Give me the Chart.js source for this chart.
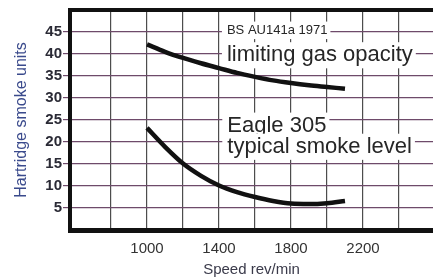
<!DOCTYPE html>
<html>
<head>
<meta charset="utf-8">
<script src="https://cdn.jsdelivr.net/npm/chart.js@4"></script>
<style>
  html, body { margin: 0; padding: 0; background: #fff; }
</style>
</head>
<body>
<canvas id="smokeChart" width="433" height="280"></canvas>
<script>
// engine speed, rev/min
const speeds = [1000, 1100, 1200, 1300, 1400, 1500, 1600, 1700, 1800, 1900, 2000, 2100];
// BS AU141a 1971 limiting gas opacity (Hartridge units)
const limitingOpacity = [42.2, 40.5, 39.1, 37.9, 36.8, 35.7, 34.8, 34.0, 33.4, 32.9, 32.5, 32.1];
// Eagle 305 typical smoke level
const eagleSmoke = [23.2, 18.9, 15.1, 12.3, 10.1, 8.6, 7.5, 6.6, 6.0, 5.9, 6.1, 6.6];

const xGridValues = [800, 1000, 1200, 1400, 1600, 1800, 2000, 2200, 2400];
const xTickLabels = [1000, 1400, 1800, 2200];
const yTickLabels = [5, 10, 15, 20, 25, 30, 35, 40, 45];

const notes = [
    { lines: ['BS AU141a 1971', 'limiting gas opacity'], x: 1444, y: [44.5, 38.3], size: [13, 22] },
    { lines: ['Eagle 305', 'typical smoke level'], x: 1446, y: [22.3, 17.5], size: [22, 22] }
];

function toPoints(xs, ys) {
    return xs.map((x, i) => ({ x: x, y: ys[i] }));
}

// white boxes behind the captions + top frame line
const captionPlugin = {
    id: 'captions',
    beforeDatasetsDraw(chart) {
        const c = chart.ctx;
        const sx = chart.scales.x, sy = chart.scales.y;
        c.save();
        notes.forEach(n => {
            n.lines.forEach((t, i) => {
                c.font = n.size[i] + 'px "Liberation Sans", Arial, sans-serif';
                const w = c.measureText(t).width;
                const px = sx.getPixelForValue(n.x);
                const py = sy.getPixelForValue(n.y[i]);
                const asc = n.size[i] * 0.74, desc = n.size[i] * 0.22;
                c.fillStyle = '#fff';
                c.fillRect(px - 5, py - asc - 3, w + 8, asc + desc + 5);
                c.fillStyle = '#262626';
                c.textBaseline = 'alphabetic';
                c.fillText(t, px, py);
            });
        });
        const a = chart.chartArea;
        c.strokeStyle = '#111';
        c.lineWidth = 4;
        c.beginPath();
        c.moveTo(a.left - 2, a.top);
        c.lineTo(a.right, a.top);
        c.stroke();
        c.restore();
    }
};

const ctx = document.getElementById('smokeChart').getContext('2d');
new Chart(ctx, {
    type: 'line',
    data: {
        datasets: [{
            label: 'limiting gas opacity',
            data: toPoints(speeds, limitingOpacity),
            borderColor: '#111',
            borderWidth: 4.5,
            pointRadius: 0,
            cubicInterpolationMode: 'monotone',
            borderCapStyle: 'butt'
        }, {
            label: 'typical smoke level',
            data: toPoints(speeds, eagleSmoke),
            borderColor: '#111',
            borderWidth: 4.5,
            pointRadius: 0,
            cubicInterpolationMode: 'monotone',
            borderCapStyle: 'butt'
        }]
    },
    options: {
        responsive: false,
        animation: false,
        layout: { padding: { top: 10, right: 0, left: 0, bottom: 0 } },
        plugins: { legend: { display: false }, tooltip: { enabled: false } },
        scales: {
            x: {
                type: 'linear',
                min: 572,
                max: 2589,
                afterBuildTicks: scale => {
                    scale.ticks = xGridValues.map(v => ({ value: v }));
                },
                afterFit: scale => { scale.height = 50; },
                grid: { color: '#4d4d4d', lineWidth: 1.2, drawTicks: false },
                border: { color: '#111', width: 5 },
                ticks: {
                    autoSkip: false,
                    maxRotation: 0,
                    padding: 10,
                    color: '#333',
                    font: { family: '"Liberation Sans", Arial, sans-serif', size: 15 },
                    callback: v => xTickLabels.includes(v) ? String(v) : ''
                },
                title: {
                    display: true,
                    text: 'Speed rev/min',
                    color: '#3a3a4a',
                    font: { family: '"Liberation Sans", Arial, sans-serif', size: 15 },
                    padding: { top: 0, bottom: 1 }
                }
            },
            y: {
                min: 0,
                max: 50,
                ticks: {
                    autoSkip: false,
                    stepSize: 5,
                    padding: 1,
                    color: '#2a2a35',
                    font: { family: '"Liberation Sans", Arial, sans-serif', size: 15, weight: 'bold' },
                    callback: v => yTickLabels.includes(v) ? String(v) : ''
                },
                afterFit: scale => { scale.width = 70; },
                grid: {
                    color: c => (c.tick && yTickLabels.includes(c.tick.value)) ? '#6e4a6a' : 'rgba(0,0,0,0)',
                    lineWidth: 1.2,
                    tickLength: 7
                },
                border: { color: '#111', width: 4 },
                title: {
                    display: true,
                    text: 'Hartridge smoke units',
                    color: '#3a4a8c',
                    font: { family: '"Liberation Sans", Arial, sans-serif', size: 16 },
                    padding: { top: 12, bottom: 0 }
                }
            }
        }
    },
    plugins: [captionPlugin]
});
</script>
</body>
</html>
